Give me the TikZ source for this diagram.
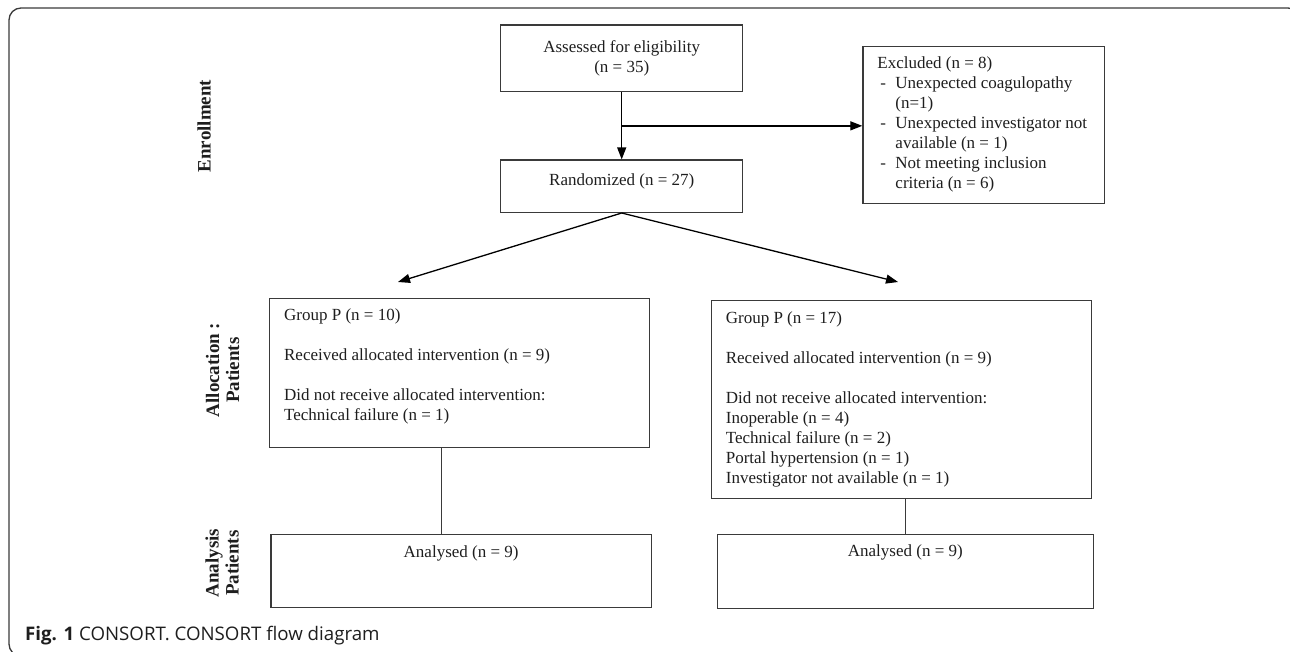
\documentclass[tikz,border=0pt]{standalone}
\usepackage{fontspec}
\setmainfont{Liberation Serif}
\newfontfamily\capfont{Open Sans}
\usetikzlibrary{arrows.meta,calc}

\definecolor{boxgray}{HTML}{3A3A3A}
\definecolor{txtgray}{HTML}{1E1E1E}

\tikzset{
  flowbox/.style={draw=boxgray, line width=1.3pt, rectangle, inner xsep=0pt, inner ysep=0pt,
    text=txtgray, font=\fontsize{17}{20}\selectfont, align=center},
  topbox/.style={flowbox, anchor=north west, inner xsep=14.5pt, inner ysep=8.5pt, align=left},
  sidelabel/.style={rotate=90, align=center, text=txtgray, font=\fontsize{19}{20}\selectfont\bfseries},
  arr/.style={draw=black, line width=1.3pt, -{Triangle[length=12pt,width=9pt]}},
  link/.style={draw=boxgray, line width=1.3pt}
}
\newcommand{\tbox}[3]{\parbox[t][#2][t]{#1}{\strut #3}}

\begin{document}
\begin{tikzpicture}[x=1pt,y=-1pt]
\useasboundingbox (0,0) rectangle (1290,651);

% frame round the figure
\draw[boxgray, line width=1.3pt, rounded corners=12pt] (9,8) rectangle (1300,656);

% enrollment
\node[flowbox, minimum width=242pt, minimum height=66.7pt] (assess) at (621.7,58.3)
  {Assessed for eligibility\\(n = 35)};
\node[flowbox, minimum width=242pt, minimum height=52.3pt, text depth=14pt] (rand) at (621.7,186.2)
  {Randomized (n = 27)};
\node[topbox] (exclude) at (862.3,45.7) {\tbox{212.7pt}{140pt}{\raggedright
  Excluded (n = 8)\\
  \makebox[18pt][l]{\hspace{3pt}-}Unexpected coagulopathy\\
  \hspace{18pt}(n=1)\\
  \makebox[18pt][l]{\hspace{3pt}-}Unexpected investigator not\\
  \hspace{18pt}available (n = 1)\\
  \makebox[18pt][l]{\hspace{3pt}-}Not meeting inclusion\\
  \hspace{18pt}criteria (n = 6)}};

% allocation
\node[topbox] (allocL) at (269,297.7) {\tbox{351pt}{132pt}{%
  Group P (n = 10)\\[20pt]
  Received allocated intervention (n = 9)\\[20pt]
  Did not receive allocated intervention:\\
  Technical failure (n = 1)}};
\node[topbox] (allocR) at (710.7,300) {\tbox{351pt}{181pt}{%
  Group P (n = 17)\\[20pt]
  Received allocated intervention (n = 9)\\[20pt]
  Did not receive allocated intervention:\\
  Inoperable (n = 4)\\
  Technical failure (n = 2)\\
  Portal hypertension (n = 1)\\
  Investigator not available (n = 1)}};

% analysis
\node[topbox, inner xsep=0pt] (anaL) at (270.3,534) {\tbox{380.4pt}{56pt}{\centering
  Analysed (n = 9)}};
\node[topbox, inner xsep=0pt, inner ysep=7.5pt] (anaR) at (716.7,534) {\tbox{376pt}{58.7pt}{\centering
  Analysed (n = 9)}};

% side labels
\node[sidelabel] (lblEnrol) at (204,126) {Enrollment};
\node[sidelabel] (lblAlloc) at (222.5,370) {Allocation :\\Patients};
\node[sidelabel] (lblAna) at (222,563) {Analysis\\Patients};

% connectors
\coordinate (branch) at ($(assess.south)!0.5!(rand.north)$);
\coordinate (tipL) at (398,282);
\coordinate (tipR) at (898,282);
\draw[arr] (assess.south) -- (rand.north);
\draw[arr] (branch) -- (branch -| exclude.west);
\draw[arr] (rand.south) -- (tipL);
\draw[arr] (rand.south) -- (tipR);
\draw[link] ([xshift=-18pt]allocL.south) -- ([xshift=-18pt]allocL.south |- anaL.north);
\draw[link] (anaR.north) -- (anaR.north |- allocR.south);

% caption
\node[anchor=base west, inner sep=0pt, text=txtgray, font=\capfont\fontsize{18.7}{20}\selectfont] (caption) at (25,640.7)
  {\textbf{Fig. 1} CONSORT. CONSORT flow diagram};
\end{tikzpicture}
\end{document}
